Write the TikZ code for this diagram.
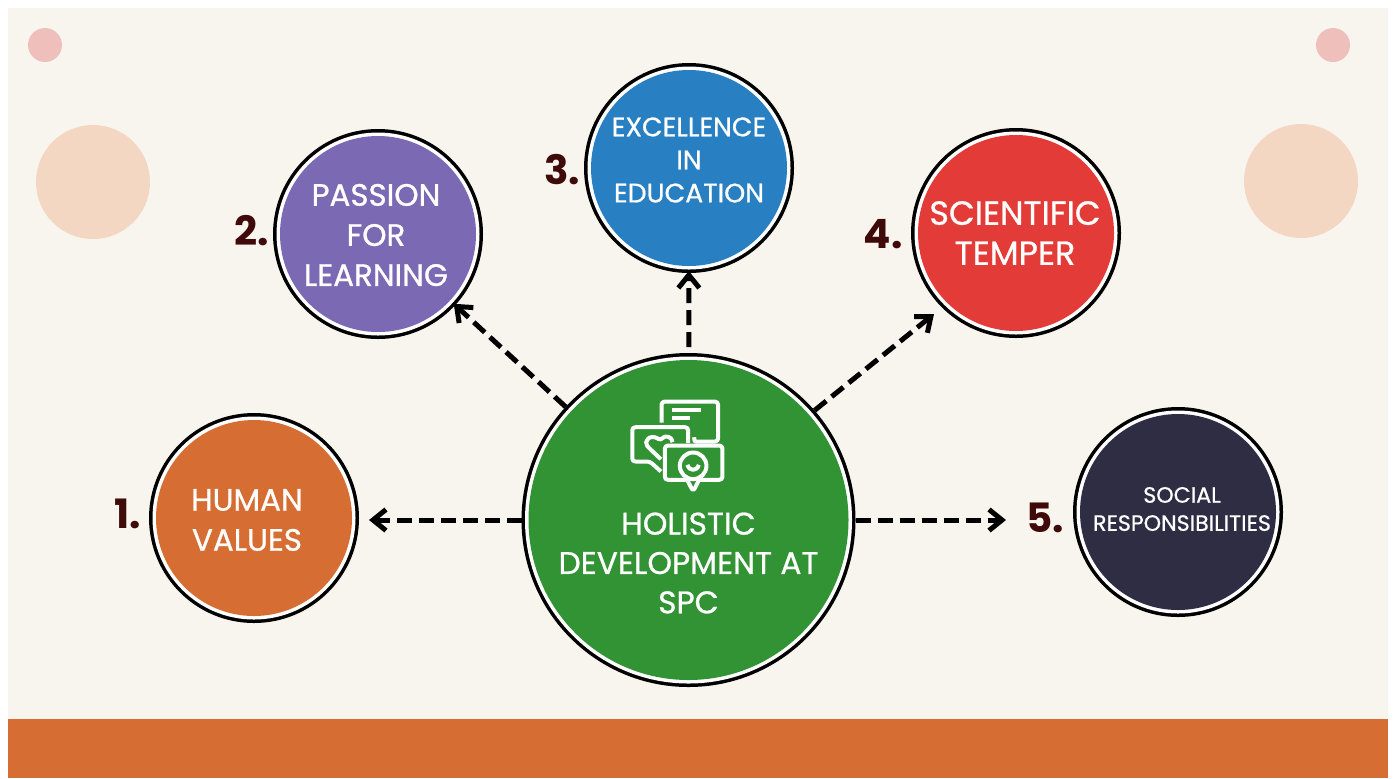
\documentclass[tikz,border=0pt]{standalone}
\usepackage{fontspec}
\setmainfont{Poppins}
\newfontfamily\capfont{Poppins}[FakeBold=0.8]
\usetikzlibrary{arrows.meta}
\definecolor{bgcream}{HTML}{F8F5EE}
\definecolor{bandorange}{HTML}{D66E33}
\definecolor{dotpink}{HTML}{EFBFBC}
\definecolor{dotpeach}{HTML}{F4D7C2}
\definecolor{maingreen}{HTML}{329334}
\definecolor{humanorange}{HTML}{D66E33}
\definecolor{passionpurple}{HTML}{7B69B3}
\definecolor{excelblue}{HTML}{2880C2}
\definecolor{temperred}{HTML}{E33C38}
\definecolor{socialnavy}{HTML}{2E2D44}
\definecolor{numcolor}{HTML}{3F0A0A}
\tikzset{
  ringed/.style={circle,inner sep=0pt,outer sep=0.07cm,
    preaction={draw=black,line width=0.14cm},
    preaction={draw=white,line width=0.07cm}},
  topic/.style={ringed,minimum size=1.96cm},
  cap/.style 2 args={text=white,align=center,inner sep=0pt,font=\capfont\fontsize{#1}{#2}\selectfont},
  numlabel/.style={text=numcolor,font=\fontsize{11.5}{12}\selectfont\bfseries,inner sep=0pt},
  flow/.style={->,line width=0.05cm,dash pattern=on 0.15cm off 0.07cm},
  icon/.style={draw=white,line width=0.04cm,rounded corners=0.03cm}
}
\begin{document}
\begin{tikzpicture}[line join=round,>={Straight Barb[length=0.13cm,width=0.21cm]},x=1.0cm,y=1.0cm]
	\useasboundingbox (0,0) rectangle (13.95,7.78);
	\fill [bgcream] (0.08,0) rectangle (13.88,7.70);
	\fill [bandorange] (0.08,0) rectangle (13.88,0.59);
	% corner dots
	\fill [dotpink] (0.45,7.33) circle (0.17);
	\fill [dotpink] (13.33,7.33) circle (0.17);
	\fill [dotpeach] (0.93,5.96) circle (0.57);
	\fill [dotpeach] (13.01,5.97) circle (0.57);
	% circles
	\node [ringed,fill=maingreen,minimum size=3.20cm] (main) at (6.885,2.58) {};
	\node [topic,fill=humanorange] (human) at (2.54,2.60) {};
	\node [topic,fill=passionpurple] (passion) at (3.78,5.44) {};
	\node [topic,fill=excelblue] (excel) at (6.89,6.10) {};
	\node [topic,fill=temperred] (temper) at (10.16,5.45) {};
	\node [topic,fill=socialnavy] (social) at (11.78,2.66) {};
	% captions
	\node [cap={8.9}{11.2}] (maintext) at (6.885,2.15) {HOLISTIC\\DEVELOPMENT AT\\SPC};
	\node [cap={8.8}{11.4}] (humantext) at (2.47,2.58) {HUMAN\\VALUES};
	\node [cap={8.8}{11.4}] (passiontext) at (3.76,5.43) {PASSION\\FOR\\LEARNING};
	\node [cap={7.6}{9.4}] (exceltext) at (6.89,6.18) {EXCELLENCE\\IN\\EDUCATION};
	\node [cap={9.5}{11.4}] (tempertext) at (10.15,5.45) {SCIENTIFIC\\TEMPER};
	\node [cap={6.3}{8}] (socialtext) at (11.82,2.69) {SOCIAL\\RESPONSIBILITIES};
	% numbers
	\node [numlabel] (num1) at (1.28,2.64) {1.};
	\node [numlabel] (num2) at (2.52,5.47) {2.};
	\node [numlabel] (num3) at (5.62,6.08) {3.};
	\node [numlabel] (num4) at (8.83,5.44) {4.};
	\node [numlabel] (num5) at (10.45,2.60) {5.};
	% arrows
	\coordinate (tempertip) at (9.34,4.64);
	\draw [flow,shorten >=0.10cm] (main.west) -- (main.west -| human.east);
	\draw [flow,shorten >=-0.02cm] (main) -- (passion);
	\draw [flow,shorten <=0.06cm,shorten >=-0.02cm] (main) -- (excel);
	\draw [flow] (main.41) -- (tempertip);
	\draw [flow,shorten >=0.67cm] (main.east) -- (main.east -| social.west);
	% icon
	\begin{scope}[shift={(6.0,3.98)},x=0.00333cm,y=-0.00333cm]
		\draw [icon] (185,128) -- (185,65) -- (355,65) -- (355,185) -- (295,185) .. controls (285,185) and (283,180) .. (283,172);
		\draw [icon] (215,90) -- (305,90);
		\draw [icon] (215,115) -- (270,115);
		\draw [icon] (265,190) -- (265,142) -- (97,142) -- (97,245) -- (150,245) -- (183,275);
		\draw [icon] (183,238) -- (148,205) .. controls (130,185) and (150,160) .. (183,182) .. controls (195,165) and (218,170) .. (218,187);
		\draw [icon] (195,197) rectangle (368,300);
		\fill [maingreen] (262,300) -- (298,300) -- (280,320) -- cycle;
		\draw [icon] (262,300) -- (280,335) -- (298,300);
		\draw [icon] (280,258) circle (40);
		\draw [icon] (263,255) .. controls (268,275) and (292,275) .. (297,255);
	\end{scope}
\end{tikzpicture}
\end{document}
